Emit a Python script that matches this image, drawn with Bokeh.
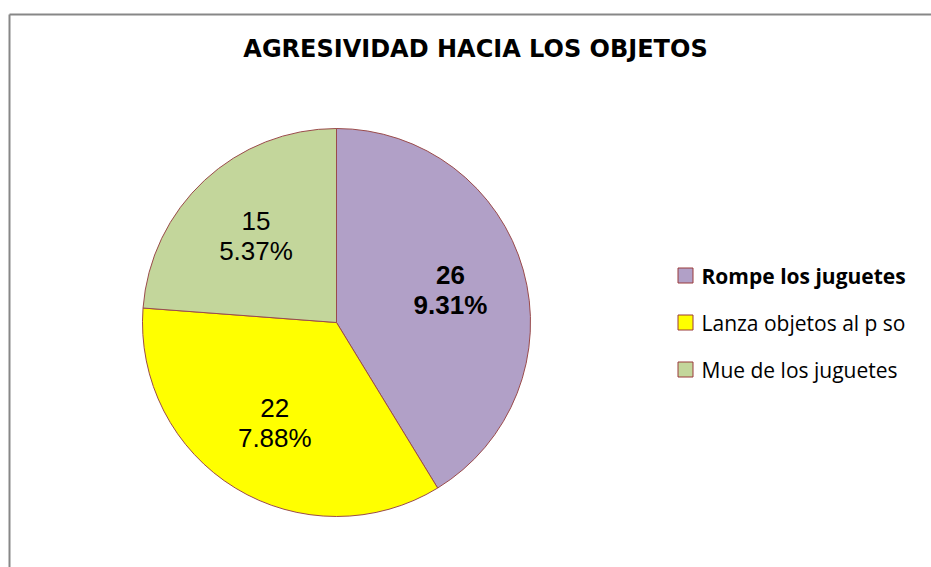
import math
from bokeh.plotting import figure
from bokeh.models import ColumnDataSource, Range1d, Label
from bokeh.core.properties import value
from bokeh.embed import file_html
from bokeh.resources import INLINE

# ---- data ----
categories = ["Rompe los juguetes", "Lanza objetos al p so", "Mue de los juguetes"]
counts = [26, 22, 15]
percent_labels = ["9.31%", "7.88%", "5.37%"]
colors = ["#B1A0C7", "#FFFF00", "#C3D69B"]
label_styles = ["bold", "normal", "normal"]
title_text = "AGRESIVIDAD HACIA LOS OBJETOS"

W, H = 931, 567
p = figure(width=W, height=H, output_backend="svg", toolbar_location=None,
           x_range=Range1d(0, W), y_range=Range1d(0, H),
           min_border=0, min_border_left=0, min_border_right=0,
           min_border_top=0, min_border_bottom=0)
p.axis.visible = False
p.grid.visible = False
p.outline_line_color = None
p.background_fill_color = "white"
p.border_fill_color = "white"

# frame lines (top and left)
p.segment(x0=[9, 9], y0=[553, 553], x1=[W, 9], y1=[553, 0],
          line_color="#878787", line_width=2)

# pie geometry
cx, cy, r = 336, 245, 194
total = sum(counts)
starts, ends, lx, ly, texts = [], [], [], [], []
cum = 0.0
for c, pct in zip(counts, percent_labels):
    a0 = math.pi / 2 - 2 * math.pi * cum / total
    cum += c
    a1 = math.pi / 2 - 2 * math.pi * cum / total
    starts.append(a0)
    ends.append(a1)
    mid = (a0 + a1) / 2
    lx.append(cx + 0.61 * r * math.cos(mid))
    ly.append(cy + 0.61 * r * math.sin(mid))
    texts.append(f"{c}\n{pct}")

src = ColumnDataSource(dict(start=starts, end=ends, color=colors,
                            lx=lx, ly=ly, text=texts, style=label_styles))
p.wedge(x=cx, y=cy, radius=r, start_angle="start", end_angle="end",
        direction="clock", fill_color="color", line_color="#9A4B4B",
        line_width=1, source=src)
p.text(x="lx", y="ly", text="text", source=src, text_align="center",
       text_baseline="middle", text_font=value("Liberation Sans"),
       text_font_size="26px", text_font_style="style", text_color="black",
       text_line_height=1.0)

# legend (custom)
leg_x, leg_y0, leg_dy = 685, 292, 47
lys = [leg_y0 - i * leg_dy for i in range(len(categories))]
lsrc = ColumnDataSource(dict(x=[leg_x] * len(categories), y=lys, color=colors,
                             tx=[leg_x + 16] * len(categories),
                             name=categories, style=label_styles))
p.scatter(x="x", y="y", marker="square", size=15, fill_color="color",
          line_color="#9A3A3A", line_width=1, source=lsrc)
p.text(x="tx", y="y", text="name", source=lsrc, text_align="left",
       text_baseline="middle", text_font=value("Open Sans"), text_font_size="21px",
       text_font_style="style", text_color="black")

# title
p.add_layout(Label(x=475, y=519, text=title_text, text_align="center",
                   text_baseline="middle", text_font="DejaVu Sans",
                   text_font_style="bold", text_font_size="24px",
                   text_color="black"))

open("out.html", "w").write(file_html(p, INLINE))
